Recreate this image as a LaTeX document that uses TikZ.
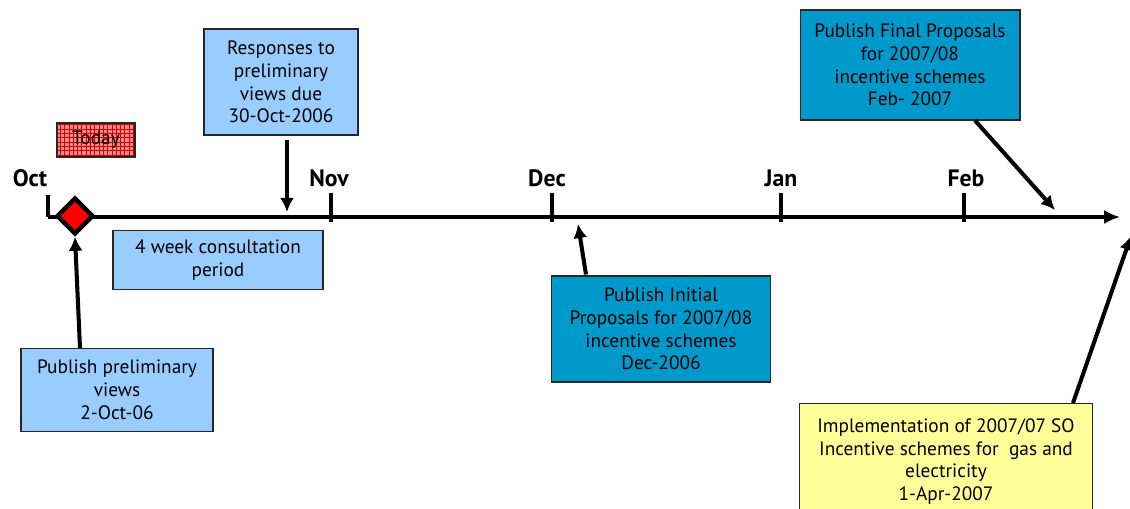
\documentclass[tikz,border=0pt]{standalone}
\usepackage{fontspec}
\setmainfont{PT Sans}
\usetikzlibrary{positioning,calc,shapes.geometric,arrows.meta}
\definecolor{paleblue}{HTML}{99CCFF}
\definecolor{seablue}{HTML}{0099CC}
\definecolor{paleyellow}{HTML}{FFFF99}
\definecolor{todayred}{HTML}{FF8C8C}

\begin{document}
\begin{tikzpicture}
  [x=0.02cm, y=-0.02cm,
   event/.style={
     rectangle,
     draw=black!85,
     line width=0.6pt,
     align=center,
     inner sep=2pt,
     font=\fontsize{11}{13}\selectfont
     },
   month/.style={font=\fontsize{13.5}{15}\selectfont\bfseries},
   axis/.style={line width=2.3pt},
   pointer/.style={-{Latex[length=8pt,width=8pt]}, line width=2.3pt}
  ]
  \useasboundingbox (0,0) rectangle (1130,508);

  % axe du temps
  \coordinate (start) at (48,217);
  \coordinate (stop) at (1120,217);
  \draw[axis, -{Latex[length=9pt,width=8pt]}] (start) -- (stop);
  \draw[axis] (48,195) -- (start);
  \node[month] (oct) at (30,178) {Oct};
  \foreach \m/\x/\lx in {Nov/331/329, Dec/552/547, Jan/781/781, Feb/964/966}{
    \draw[axis] (\x,193) -- (\x,222);
    \node[month] (\m) at (\lx,178) {\m};
  }

  % aujourd'hui
  \node[diamond, fill=red, draw=black, line width=2.5pt, minimum size=0.74cm, inner sep=0pt]
    (now) at (75,216) {};
  \node[event, minimum width=1.56cm, minimum height=0.68cm, fill=todayred]
    (today) at (96,140) {};
  \draw[red!85!black, line width=0.3pt, step=0.086cm]
    (today.south west) grid (today.north east);
  \node[event, minimum width=1.56cm, minimum height=0.68cm] at (today) {Today};

  % evenements
  \node[event, fill=paleblue, minimum width=3.08cm, minimum height=2.12cm]
    (resp) at (281,82)
    {Responses to\\preliminary\\views due\\30-Oct-2006};
  \node[event, fill=paleblue, minimum width=4.2cm, minimum height=1.18cm]
    (consult) at (218,260)
    {4 week consultation\\period};
  \node[event, fill=paleblue, minimum width=3.84cm, minimum height=1.66cm]
    (prelim) at (117,390)
    {Publish preliminary\\views\\2-Oct-06};
  \node[event, fill=seablue, minimum width=4.38cm, minimum height=2.12cm]
    (initial) at (661,329)
    {Publish Initial\\Proposals for 2007/08\\incentive schemes\\Dec-2006};
  \node[event, fill=seablue, minimum width=4.4cm, minimum height=2.2cm]
    (final) at (910,65)
    {Publish Final Proposals\\for 2007/08\\incentive schemes\\Feb- 2007};
  \node[event, fill=paleyellow, minimum width=5.86cm, minimum height=2.32cm, anchor=north]
    (impl) at (946,403)
    {Implementation of 2007/07 SO\\Incentive schemes for\ \ gas and\\electricity\\1-Apr-2007};

  % fleches
  \coordinate (respdue) at (287,212);
  \coordinate (initdue) at (578,224);
  \coordinate (finaldue) at (1055,210);
  \coordinate (impldue) at (1131,236);

  \draw[pointer] ($(prelim.north)+(-37,0)$) -- (now.south);
  \draw[pointer] ($(resp.south)+(6,4)$) -- (respdue);
  \draw[pointer] ($(initial.north west)+(35,-1)$) -- (initdue);
  \draw[pointer] ($(final.south)+(65,0)$) -- (finaldue);
  \draw[pointer] ($(impl.north east)+(-20,0)$) -- (impldue);
\end{tikzpicture}
\end{document}
